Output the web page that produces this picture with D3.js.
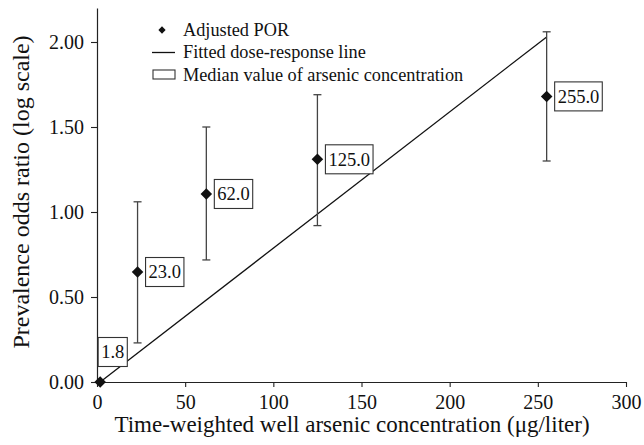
<!DOCTYPE html>
<html>
<head>
<meta charset="utf-8">
<script src="https://cdn.jsdelivr.net/npm/d3@7"></script>
<style>
  body { margin: 0; background: #fff; }
  svg text { font-family: "Liberation Serif", "Times New Roman", "DejaVu Serif", serif; fill: #111; }
</style>
</head>
<body>
<svg id="chart" width="644" height="445"></svg>
<script>
// Data
const concentrations = [1.8, 23.0, 62.0, 125.0, 255.0];
const porValues = [0.0, 0.647, 1.106, 1.31, 1.68];
const ciLower = [0.0, 0.23, 0.718, 0.92, 1.30];
const ciUpper = [0.0, 1.06, 1.50, 1.69, 2.06];
const fittedLine = [[1.8, 0.0], [255.0, 2.03]];
const xTicks = [0, 50, 100, 150, 200, 250, 300];
const yTicks = [0, 0.5, 1.0, 1.5, 2.0];
const legendItems = ["Adjusted POR", "Fitted dose-response line", "Median value of arsenic concentration"];

const svg = d3.select("#chart");

const x = d3.scaleLinear().domain([0, 300]).range([97, 626]);
const y = d3.scaleLinear().domain([0, 2.2]).range([382, 382 - 2.2 * 170]);

// Axes
const xAxis = svg.append("g")
    .attr("transform", `translate(0,${y(0)})`)
    .call(d3.axisBottom(x).tickValues(xTicks).tickFormat(d3.format("d")).tickSize(5).tickSizeOuter(0));
const yAxis = svg.append("g")
    .attr("transform", `translate(${x(0)},0)`)
    .call(d3.axisLeft(y).tickValues(yTicks).tickFormat(d3.format(".2f")).tickSize(6).tickSizeOuter(0));

[xAxis, yAxis].forEach(g => {
    g.select(".domain").attr("stroke", "#222").attr("stroke-width", 1.2);
    g.selectAll(".tick line").attr("stroke", "#222").attr("stroke-width", 1.1);
    g.selectAll(".tick text").attr("font-size", 20).attr("fill", "#111")
        .style("font-family", "'Liberation Serif', 'Times New Roman', serif");
});
xAxis.selectAll(".tick text").attr("y", 27).attr("dy", 0);
yAxis.selectAll(".tick text").attr("x", -13).attr("dy", "0.33em");

// Axis titles
svg.append("text")
    .attr("x", 352)
    .attr("y", 432)
    .attr("text-anchor", "middle")
    .attr("font-size", 23)
    .text("Time-weighted well arsenic concentration (\u03bcg/liter)");

svg.append("text")
    .attr("transform", "translate(29,192) rotate(-90)")
    .attr("text-anchor", "middle")
    .attr("font-size", 24)
    .text("Prevalence odds ratio (log scale)");

// Fitted line
svg.append("path")
    .datum(fittedLine)
    .attr("d", d3.line().x(d => x(d[0])).y(d => y(d[1])))
    .attr("fill", "none")
    .attr("stroke", "#111")
    .attr("stroke-width", 1.3);

// Error bars
const points = concentrations.map((c, i) => ({ c, v: porValues[i], lo: ciLower[i], hi: ciUpper[i] }));
const bars = svg.append("g").selectAll("g").data(points.filter(d => d.hi > d.lo)).join("g")
    .attr("stroke", "#444").attr("stroke-width", 1.3);
bars.append("line")
    .attr("x1", d => x(d.c)).attr("x2", d => x(d.c))
    .attr("y1", d => y(d.lo)).attr("y2", d => y(d.hi));
bars.append("line")
    .attr("x1", d => x(d.c) - 4).attr("x2", d => x(d.c) + 4)
    .attr("y1", d => y(d.lo)).attr("y2", d => y(d.lo));
bars.append("line")
    .attr("x1", d => x(d.c) - 4).attr("x2", d => x(d.c) + 4)
    .attr("y1", d => y(d.hi)).attr("y2", d => y(d.hi));

// Diamonds
const diamond = d3.symbol().type(d3.symbolDiamond2).size(85);
svg.append("g").selectAll("path").data(points).join("path")
    .attr("d", diamond)
    .attr("transform", d => `translate(${x(d.c)},${y(d.v)})`)
    .attr("fill", "#111");

// Median labels in boxes
const labels = svg.append("g").selectAll("g").data(points).join("g")
    .attr("transform", (d, i) => i === 0
        ? `translate(${x(d.c) - 2},${y(d.v) - 30})`
        : `translate(${x(d.c) + 8},${y(d.v)})`);
labels.append("text")
    .attr("x", 3)
    .attr("dy", "0.35em")
    .attr("font-size", 18.5)
    .text(d => d.c.toFixed(1))
    .each(function () {
        const bb = this.getBBox();
        d3.select(this.parentNode).insert("rect", "text")
            .attr("x", 0).attr("y", -14.5)
            .attr("width", bb.width + 6).attr("height", 29)
            .attr("fill", "#fff").attr("stroke", "#333").attr("stroke-width", 1.1);
    });

// Legend
const legend = svg.append("g").attr("transform", "translate(162,30)");
const rowGap = 22.5;
legend.append("path")
    .attr("d", d3.symbol().type(d3.symbolDiamond2).size(34))
    .attr("fill", "#111");
legend.append("line")
    .attr("x1", -10).attr("x2", 13).attr("y1", rowGap).attr("y2", rowGap)
    .attr("stroke", "#111").attr("stroke-width", 1.3);
legend.append("rect")
    .attr("x", -9).attr("y", 2 * rowGap - 5).attr("width", 22).attr("height", 9)
    .attr("fill", "none").attr("stroke", "#333").attr("stroke-width", 1.1);
legend.selectAll("text.item").data(legendItems).join("text")
    .attr("class", "item")
    .attr("x", 21)
    .attr("y", (d, i) => i * rowGap)
    .attr("dy", "0.32em")
    .attr("font-size", 18.3)
    .text(d => d);
</script>
</body>
</html>
